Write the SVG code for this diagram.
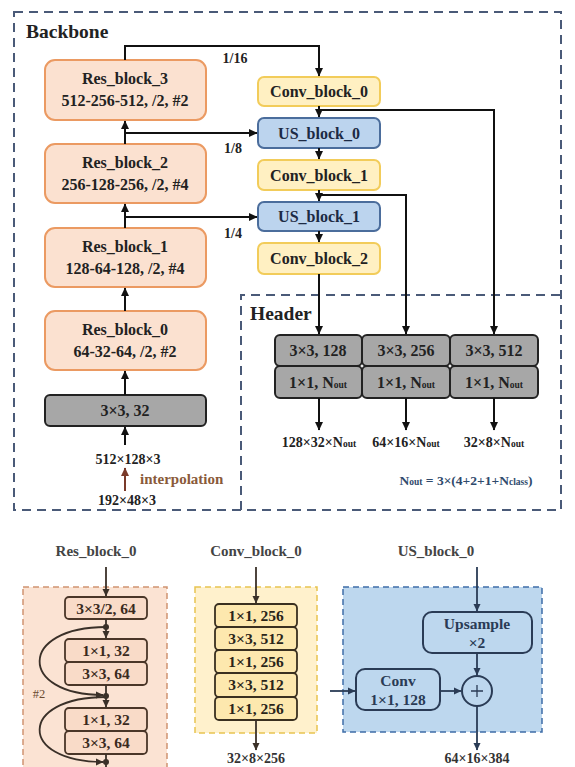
<svg xmlns="http://www.w3.org/2000/svg" width="575" height="767" viewBox="0 0 575 767">
<defs>
<marker id="ah" markerUnits="userSpaceOnUse" markerWidth="9" markerHeight="9" refX="8" refY="4.5" orient="auto"><path d="M0,0.5 L8.5,4.5 L0,8.5 z" fill="#111"/></marker>
<marker id="ahb" markerUnits="userSpaceOnUse" markerWidth="9" markerHeight="9" refX="8" refY="4.5" orient="auto"><path d="M0,0.5 L8.5,4.5 L0,8.5 z" fill="#7a3a2a"/></marker>
<marker id="ahs" markerUnits="userSpaceOnUse" markerWidth="8" markerHeight="8" refX="7" refY="4" orient="auto"><path d="M0,0.5 L7.5,4 L0,7.5 z" fill="#3a3028"/></marker>
<marker id="ahn" markerUnits="userSpaceOnUse" markerWidth="8" markerHeight="8" refX="7" refY="4" orient="auto"><path d="M0,0.5 L7.5,4 L0,7.5 z" fill="#2a3b55"/></marker>
</defs>
<style>
text{font-family:"Liberation Serif","Times New Roman",serif;font-weight:bold;fill:#222;text-anchor:middle}
.res{fill:#fbe1d0;stroke:#eb9a62;stroke-width:2}
.conv{fill:#fff0c2;stroke:#f2cc5a;stroke-width:2}
.us{fill:#bcd4ee;stroke:#4b6d9c;stroke-width:2}
.gray{fill:#a7a7a7;stroke:#222;stroke-width:2}
.lbl{font-size:16px}
.con{fill:none;stroke:#111;stroke-width:2}
.dash{fill:none;stroke:#4a5a78;stroke-width:2;stroke-dasharray:9 6}
.small{font-size:14px}
.sub{font-size:9.5px}
</style>
<rect width="575" height="767" fill="#fff"/>

<!-- containers -->
<g id="backbone">
<rect class="dash" x="14" y="12" width="547" height="498"/>
<text x="26" y="38" style="font-size:19.5px;text-anchor:start">Backbone</text>
</g>
<g id="header">
<path class="dash" d="M241,510 V295 H561"/>
<text x="250" y="320" style="font-size:19.5px;text-anchor:start">Header</text>
</g>

<!-- nodes -->
<g id="res_block_3"><rect class="res" x="45" y="60" width="161" height="60" rx="10"/><text class="lbl" x="125" y="84">Res_block_3</text><text class="lbl" x="125" y="106">512-256-512, /2, #2</text></g>
<g id="res_block_2"><rect class="res" x="45" y="144" width="161" height="59" rx="10"/><text class="lbl" x="125" y="168">Res_block_2</text><text class="lbl" x="125" y="190">256-128-256, /2, #4</text></g>
<g id="res_block_1"><rect class="res" x="45" y="228" width="161" height="59" rx="10"/><text class="lbl" x="125" y="252">Res_block_1</text><text class="lbl" x="125" y="274">128-64-128, /2, #4</text></g>
<g id="res_block_0"><rect class="res" x="45" y="311" width="161" height="59" rx="10"/><text class="lbl" x="125" y="335">Res_block_0</text><text class="lbl" x="125" y="357">64-32-64, /2, #2</text></g>
<g id="stem"><rect class="gray" x="45" y="395" width="161" height="31" rx="5"/><text class="lbl" x="125" y="416">3×3, 32</text></g>

<g id="conv_block_0"><rect class="conv" x="258" y="77" width="122" height="29" rx="6"/><text class="lbl" x="319" y="97">Conv_block_0</text></g>
<g id="us_block_0"><rect class="us" x="258" y="118" width="122" height="30" rx="6"/><text class="lbl" x="319" y="139" style="fill:#1c2a44">US_block_0</text></g>
<g id="conv_block_1"><rect class="conv" x="258" y="160" width="122" height="30" rx="6"/><text class="lbl" x="319" y="181">Conv_block_1</text></g>
<g id="us_block_1"><rect class="us" x="258" y="202" width="122" height="29" rx="6"/><text class="lbl" x="319" y="222" style="fill:#1c2a44">US_block_1</text></g>
<g id="conv_block_2"><rect class="conv" x="258" y="243" width="122" height="31" rx="6"/><text class="lbl" x="319" y="264">Conv_block_2</text></g>

<g id="head_0"><rect class="gray" x="275" y="335" width="87" height="31" rx="5"/><rect class="gray" x="275" y="366" width="87" height="32" rx="5"/><text class="lbl" x="318" y="356">3×3, 128</text><text class="lbl" x="318" y="388">1×1, N<tspan class="sub">out</tspan></text></g>
<g id="head_1"><rect class="gray" x="362" y="335" width="88" height="31" rx="5"/><rect class="gray" x="362" y="366" width="88" height="32" rx="5"/><text class="lbl" x="406" y="356">3×3, 256</text><text class="lbl" x="406" y="388">1×1, N<tspan class="sub">out</tspan></text></g>
<g id="head_2"><rect class="gray" x="450" y="335" width="88" height="31" rx="5"/><rect class="gray" x="450" y="366" width="88" height="32" rx="5"/><text class="lbl" x="494" y="356">3×3, 512</text><text class="lbl" x="494" y="388">1×1, N<tspan class="sub">out</tspan></text></g>

<!-- connectors -->
<g id="connectors">
<line class="con" x1="125" y1="445" x2="125" y2="427" marker-end="url(#ah)"/>
<line class="con" x1="125" y1="395" x2="125" y2="371" marker-end="url(#ah)"/>
<line class="con" x1="125" y1="311" x2="125" y2="288" marker-end="url(#ah)"/>
<line class="con" x1="125" y1="228" x2="125" y2="204" marker-end="url(#ah)"/>
<line class="con" x1="125" y1="144" x2="125" y2="121" marker-end="url(#ah)"/>
<path class="con" d="M125,217 H257" marker-end="url(#ah)"/>
<path class="con" d="M125,133 H257" marker-end="url(#ah)"/>
<path class="con" d="M125,60 V46 H319 V76" marker-end="url(#ah)"/>
<line class="con" x1="319" y1="106" x2="319" y2="117" marker-end="url(#ah)"/>
<path class="con" d="M319,110 H494 V334" marker-end="url(#ah)"/>
<line class="con" x1="319" y1="148" x2="319" y2="159" marker-end="url(#ah)"/>
<line class="con" x1="319" y1="190" x2="319" y2="201" marker-end="url(#ah)"/>
<path class="con" d="M319,195 H406 V334" marker-end="url(#ah)"/>
<line class="con" x1="319" y1="231" x2="319" y2="242" marker-end="url(#ah)"/>
<line class="con" x1="319" y1="274" x2="319" y2="334" marker-end="url(#ah)"/>
<line class="con" x1="319" y1="398" x2="319" y2="430" marker-end="url(#ah)"/>
<line class="con" x1="406" y1="398" x2="406" y2="430" marker-end="url(#ah)"/>
<line class="con" x1="494" y1="398" x2="494" y2="430" marker-end="url(#ah)"/>
<line x1="125" y1="491" x2="125" y2="468" stroke="#7a3a2a" stroke-width="2" marker-end="url(#ahb)"/>
</g>

<g id="labels">
<text class="small" x="235" y="63">1/16</text>
<text class="small" x="233" y="153">1/8</text>
<text class="small" x="233" y="238">1/4</text>
<text class="small" x="128" y="464">512×128×3</text>
<text x="140" y="484" style="font-size:15px;text-anchor:start;fill:#8a5a3a">interpolation</text>
<text class="small" x="127" y="505">192×48×3</text>
<text class="small" x="319" y="447">128×32×N<tspan class="sub">out</tspan></text>
<text class="small" x="406" y="447">64×16×N<tspan class="sub">out</tspan></text>
<text class="small" x="494" y="447">32×8×N<tspan class="sub">out</tspan></text>
<text x="466" y="485" style="font-size:13.5px;fill:#2f4a6c">N<tspan class="sub">out</tspan> = 3×(4+2+1+N<tspan class="sub">class</tspan>)</text>
</g>

<!-- detail panel: Res_block_0 -->
<g id="detail_res">
<rect x="23" y="587" width="144" height="200" fill="#fbe3d3" stroke="#cf9472" stroke-width="1.5" stroke-dasharray="6 4"/>
<text x="96" y="556" style="font-size:15px;fill:#444">Res_block_0</text>
<g style="fill:#f9dbc8;stroke:#4a3628;stroke-width:1.8">
<rect x="65" y="597" width="82" height="22" rx="4"/>
<rect x="65" y="639" width="82" height="23" rx="4"/>
<rect x="65" y="662" width="82" height="23" rx="4"/>
<rect x="65" y="708" width="82" height="23" rx="4"/>
<rect x="65" y="731" width="82" height="23" rx="4"/>
</g>
<g style="font-size:15.5px">
<text x="106" y="614" style="fill:#3a2a20">3×3/2, 64</text>
<text x="106" y="656" style="fill:#3a2a20">1×1, 32</text>
<text x="106" y="679" style="fill:#3a2a20">3×3, 64</text>
<text x="106" y="725" style="fill:#3a2a20">1×1, 32</text>
<text x="106" y="748" style="fill:#3a2a20">3×3, 64</text>
</g>
<text x="39" y="698" style="font-size:12.5px;fill:#6a4a30;font-weight:normal">#2</text>
<g style="fill:none;stroke:#3a3028;stroke-width:1.8">
<line x1="106" y1="567" x2="106" y2="596" marker-end="url(#ahs)"/>
<line x1="106" y1="619" x2="106" y2="638" marker-end="url(#ahs)"/>
<line x1="106" y1="685" x2="106" y2="707" marker-end="url(#ahs)"/>
<line x1="106" y1="754" x2="106" y2="767"/>
<path d="M106,627 C18,627 18,695 103,695" marker-end="url(#ahs)"/>
<path d="M106,697 C18,697 18,762 103,762" marker-end="url(#ahs)"/>
</g>
<circle cx="106" cy="627" r="3" fill="#3a3028"/>
<circle cx="106" cy="696" r="3" fill="#3a3028"/>
<circle cx="106" cy="762" r="3" fill="#3a3028"/>
</g>

<!-- detail panel: Conv_block_0 -->
<g id="detail_conv">
<rect x="195" y="587" width="122" height="146" fill="#fff1cc" stroke="#e8c450" stroke-width="1.5" stroke-dasharray="6 4"/>
<text x="256" y="556" style="font-size:15px;fill:#444">Conv_block_0</text>
<g style="fill:#fde8ae;stroke:#3a3020;stroke-width:1.8">
<rect x="215" y="604" width="82" height="23" rx="4"/>
<rect x="215" y="627" width="82" height="23" rx="4"/>
<rect x="215" y="650" width="82" height="23" rx="4"/>
<rect x="215" y="673" width="82" height="24" rx="4"/>
<rect x="215" y="697" width="82" height="23" rx="4"/>
</g>
<g style="font-size:15.5px">
<text x="256" y="621" style="fill:#2a2418">1×1, 256</text>
<text x="256" y="644" style="fill:#2a2418">3×3, 512</text>
<text x="256" y="667" style="fill:#2a2418">1×1, 256</text>
<text x="256" y="690" style="fill:#2a2418">3×3, 512</text>
<text x="256" y="714" style="fill:#2a2418">1×1, 256</text>
</g>
<g style="fill:none;stroke:#3a3028;stroke-width:1.8">
<line x1="256" y1="567" x2="256" y2="603" marker-end="url(#ahs)"/>
<line x1="256" y1="720" x2="256" y2="750" marker-end="url(#ahs)"/>
</g>
<text x="256" y="763" style="font-size:14px;fill:#333">32×8×256</text>
</g>

<!-- detail panel: US_block_0 -->
<g id="detail_us">
<rect x="343" y="587" width="199" height="145" fill="#bdd7ee" stroke="#3f6ea8" stroke-width="1.5" stroke-dasharray="6 4"/>
<text x="436" y="556" style="font-size:15px;fill:#444">US_block_0</text>
<rect x="423" y="612" width="109" height="41" rx="9" fill="#bdd7ee" stroke="#2a3b55" stroke-width="2"/>
<text x="477" y="629" style="font-size:15.5px;fill:#2a3b55">Upsample</text>
<text x="477" y="648" style="font-size:15.5px;fill:#2a3b55">×2</text>
<rect x="356" y="669" width="84" height="41" rx="9" fill="#bdd7ee" stroke="#2a3b55" stroke-width="2"/>
<text x="398" y="686" style="font-size:15.5px;fill:#2a3b55">Conv</text>
<text x="398" y="705" style="font-size:15.5px;fill:#2a3b55">1×1, 128</text>
<circle cx="477" cy="691" r="15" fill="#bdd7ee" stroke="#2a3b55" stroke-width="2"/>
<path d="M471,691 H483 M477,685 V697" stroke="#2a3b55" stroke-width="1.3"/>
<g style="fill:none;stroke:#2a3b55;stroke-width:1.8">
<line x1="477" y1="567" x2="477" y2="611" marker-end="url(#ahn)"/>
<line x1="477" y1="653" x2="477" y2="675" marker-end="url(#ahn)"/>
<line x1="440" y1="691" x2="461" y2="691" marker-end="url(#ahn)"/>
<line x1="330" y1="691" x2="355" y2="691" marker-end="url(#ahn)"/>
<line x1="477" y1="706" x2="477" y2="750" marker-end="url(#ahn)"/>
</g>
<text x="477" y="763" style="font-size:14px;fill:#333">64×16×384</text>
</g>
</svg>
